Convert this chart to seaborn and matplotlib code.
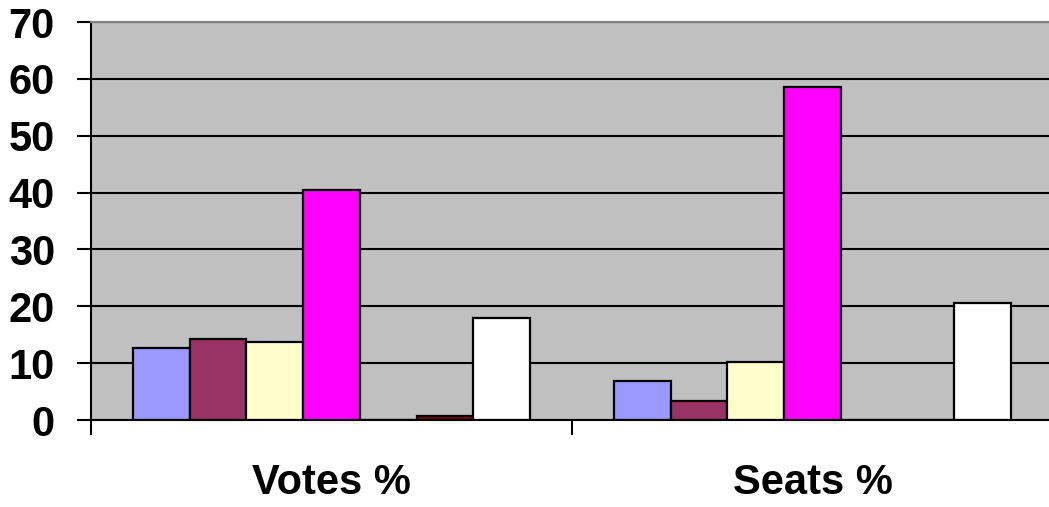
import matplotlib
matplotlib.use("Agg")
import matplotlib.pyplot as plt
import seaborn as sns
import pandas as pd
from matplotlib.ticker import FixedLocator

categories = ["Votes %", "Seats %"]
series = ["Party 1", "Party 2", "Party 3", "Party 4", "Party 5", "Party 6", "Party 7"]
votes = [12.6, 14.2, 13.7, 40.4, 0.0, 0.75, 18.0]
seats = [6.9, 3.4, 10.2, 58.5, 0.0, 0.0, 20.6]
colors = ["#9999FF", "#993366", "#FFFFCC", "#FF00FF", "#CCFFFF", "#800000", "#FFFFFF"]
yticks = [0, 10, 20, 30, 40, 50, 60, 70]

rows = []
for cat, vals in zip(categories, [votes, seats]):
    for s, v in zip(series, vals):
        rows.append({"category": cat, "series": s, "value": v})
df = pd.DataFrame(rows)

sns.set_theme(style="white")
plt.rcParams["font.family"] = ["Liberation Sans", "DejaVu Sans"]
plt.rcParams["font.weight"] = "bold"
plt.rcParams["text.color"] = "black"
plt.rcParams["xtick.color"] = "black"
plt.rcParams["ytick.color"] = "black"

W, H = 1049, 507
fig = plt.figure(figsize=(W / 100, H / 100), dpi=100)
ax = fig.add_axes([91 / W, (H - 420) / H, (W - 91) / W, (420 - 22) / H])

sns.barplot(data=df, x="category", y="value", hue="series", order=categories,
            hue_order=series, palette=colors, width=0.825, edgecolor="black",
            linewidth=1.6, legend=False, ax=ax, errorbar=None, saturation=1)

ax.set_facecolor("#C0C0C0")
ax.set_ylim(0, 70)
ax.set_xlim(-0.5, -0.5 + (W - 91) / 481)
ax.set_yticks(yticks)
ax.yaxis.grid(True, color="black", linewidth=1.5)
ax.set_axisbelow(True)

ax.set_xlabel("")
ax.set_ylabel("")

# category labels
ax.set_xticks([0, 1])
ax.set_xticklabels(categories, fontsize=30, fontweight="bold", color="black")
ax.tick_params(axis="x", which="major", length=0, pad=31)
ax.xaxis.set_minor_locator(FixedLocator([-0.5, 0.5, 1.5]))
ax.tick_params(axis="x", which="minor", length=11, width=1.5, color="black", direction="out", bottom=True)

ax.set_yticklabels([str(t) for t in yticks], fontsize=30, fontweight="bold", color="black")
ax.tick_params(axis="y", length=10, width=1.5, color="black", direction="out", pad=16, left=True)

for side in ["left", "bottom"]:
    ax.spines[side].set_color("black")
    ax.spines[side].set_linewidth(1.5)
ax.spines["top"].set_color("#808080")
ax.spines["top"].set_linewidth(1.5)
ax.spines["right"].set_visible(False)

fig.savefig("out.png", dpi=100)
